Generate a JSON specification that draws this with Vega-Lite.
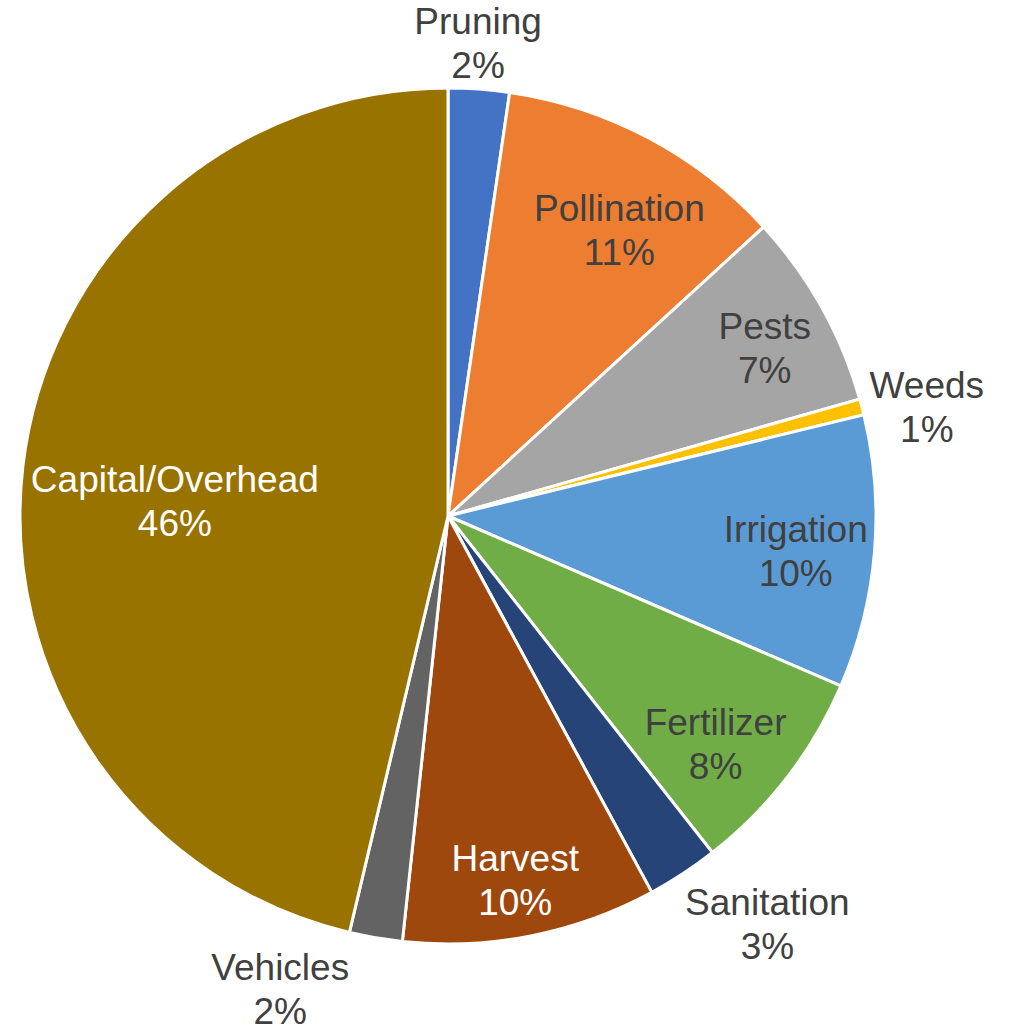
{
  "$schema": "https://vega.github.io/schema/vega-lite/v6.json",
  "width": 896,
  "height": 1032,
  "autosize": "none",
  "padding": {"left": 0, "top": 0, "right": 116, "bottom": 1},
  "background": "white",
  "config": {"view": {"stroke": null}},
  "data": {
    "values": [
      {"idx": 1, "category": "Pruning", "value": 2.3, "label": "Pruning\n2%"},
      {"idx": 2, "category": "Pollination", "value": 10.9, "label": "Pollination\n11%"},
      {"idx": 3, "category": "Pests", "value": 7.4, "label": "Pests\n7%"},
      {"idx": 4, "category": "Weeds", "value": 0.6, "label": "Weeds\n1%"},
      {"idx": 5, "category": "Irrigation", "value": 10.3, "label": "Irrigation\n10%"},
      {"idx": 6, "category": "Fertilizer", "value": 7.9, "label": "Fertilizer\n8%"},
      {"idx": 7, "category": "Sanitation", "value": 2.7, "label": "Sanitation\n3%"},
      {"idx": 8, "category": "Harvest", "value": 9.6, "label": "Harvest\n10%"},
      {"idx": 9, "category": "Vehicles", "value": 2.0, "label": "Vehicles\n2%"},
      {"idx": 10, "category": "Capital/Overhead", "value": 46.3, "label": "Capital/Overhead\n46%"}
    ]
  },
  "encoding": {
    "theta": {"field": "value", "type": "quantitative", "stack": true},
    "order": {"field": "idx", "type": "quantitative"}
  },
  "layer": [
    {
      "mark": {"type": "arc", "outerRadius": 428, "stroke": "white", "strokeWidth": 3},
      "encoding": {
        "color": {
          "field": "category",
          "type": "nominal",
          "legend": null,
          "scale": {
            "domain": ["Pruning", "Pollination", "Pests", "Weeds", "Irrigation", "Fertilizer", "Sanitation", "Harvest", "Vehicles", "Capital/Overhead"],
            "range": ["#4472C4", "#ED7D31", "#A5A5A5", "#FFC000", "#5B9BD5", "#70AD47", "#264478", "#9E480E", "#636363", "#997300"]
          }
        }
      }
    },
    {
      "mark": {"type": "text", "radius": 472, "font": "Liberation Sans", "fontSize": 37, "lineBreak": "\n", "lineHeight": 44, "fill": "#404040", "dx": -4, "dy": -22},
      "encoding": {"text": {"condition": {"test": "datum.category === 'Pruning'", "field": "label"}, "value": ""}}
    },
    {
      "mark": {"type": "text", "radius": 332, "font": "Liberation Sans", "fontSize": 37, "lineBreak": "\n", "lineHeight": 44, "fill": "#404040", "dx": 16, "dy": -13},
      "encoding": {"text": {"condition": {"test": "datum.category === 'Pollination'", "field": "label"}, "value": ""}}
    },
    {
      "mark": {"type": "text", "radius": 357, "font": "Liberation Sans", "fontSize": 37, "lineBreak": "\n", "lineHeight": 44, "fill": "#404040", "dx": 5, "dy": -14},
      "encoding": {"text": {"condition": {"test": "datum.category === 'Pests'", "field": "label"}, "value": ""}}
    },
    {
      "mark": {"type": "text", "radius": 490, "font": "Liberation Sans", "fontSize": 37, "lineBreak": "\n", "lineHeight": 44, "fill": "#404040", "dx": 5, "dy": -4},
      "encoding": {"text": {"condition": {"test": "datum.category === 'Weeds'", "field": "label"}, "value": ""}}
    },
    {
      "mark": {"type": "text", "radius": 349, "font": "Liberation Sans", "fontSize": 37, "lineBreak": "\n", "lineHeight": 44, "fill": "#404040", "dy": -15},
      "encoding": {"text": {"condition": {"test": "datum.category === 'Irrigation'", "field": "label"}, "value": ""}}
    },
    {
      "mark": {"type": "text", "radius": 353, "font": "Liberation Sans", "fontSize": 37, "lineBreak": "\n", "lineHeight": 44, "fill": "#404040", "dx": -12, "dy": -7},
      "encoding": {"text": {"condition": {"test": "datum.category === 'Fertilizer'", "field": "label"}, "value": ""}}
    },
    {
      "mark": {"type": "text", "radius": 518, "font": "Liberation Sans", "fontSize": 37, "lineBreak": "\n", "lineHeight": 44, "fill": "#404040", "dx": 35, "dy": -45},
      "encoding": {"text": {"condition": {"test": "datum.category === 'Sanitation'", "field": "label"}, "value": ""}}
    },
    {
      "mark": {"type": "text", "radius": 373, "font": "Liberation Sans", "fontSize": 37, "lineBreak": "\n", "lineHeight": 44, "fill": "white", "dx": -5, "dy": -22},
      "encoding": {"text": {"condition": {"test": "datum.category === 'Harvest'", "field": "label"}, "value": ""}}
    },
    {
      "mark": {"type": "text", "radius": 496, "font": "Liberation Sans", "fontSize": 37, "lineBreak": "\n", "lineHeight": 44, "fill": "#404040", "dx": -84, "dy": -36},
      "encoding": {"text": {"condition": {"test": "datum.category === 'Vehicles'", "field": "label"}, "value": ""}}
    },
    {
      "mark": {"type": "text", "radius": 273, "font": "Liberation Sans", "fontSize": 37, "lineBreak": "\n", "lineHeight": 44, "fill": "white", "dx": -2, "dy": -3},
      "encoding": {"text": {"condition": {"test": "datum.category === 'Capital/Overhead'", "field": "label"}, "value": ""}}
    }
  ]
}
